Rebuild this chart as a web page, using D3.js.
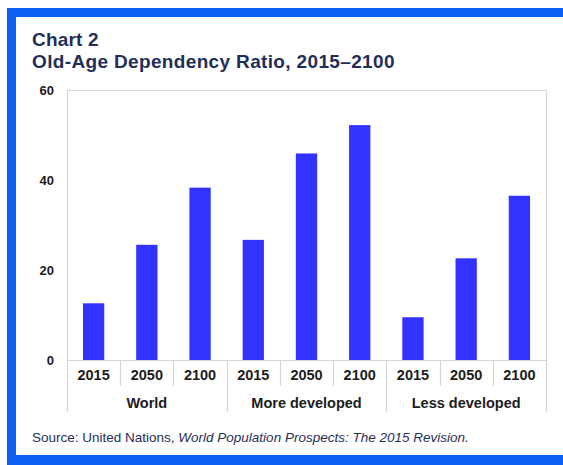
<!DOCTYPE html>
<html>
<head>
<meta charset="utf-8">
<script src="https://cdn.jsdelivr.net/npm/d3@7"></script>
<style>
  html, body { margin: 0; padding: 0; background: #ffffff; }
  svg { display: block; font-family: "Liberation Sans", Arial, sans-serif; }
</style>
</head>
<body>
<svg id="chart" width="563" height="465"></svg>
<script>
// Old-age dependency ratio by region and year
const groups = ["World", "More developed", "Less developed"];
const years = ["2015", "2050", "2100"];
const worldValues = [12.6, 25.6, 38.3];
const moreDevelopedValues = [26.7, 45.9, 52.2];
const lessDevelopedValues = [9.5, 22.6, 36.5];
const yTicks = [0, 20, 40, 60];

const seriesByGroup = [worldValues, moreDevelopedValues, lessDevelopedValues];
const rows = [];
groups.forEach((g, gi) => {
  years.forEach((yr, yi) => {
    rows.push({ key: g + "|" + yr, group: g, year: yr, value: seriesByGroup[gi][yi] });
  });
});

const svg = d3.select("#chart");
const W = 563, H = 465;

// Blue frame (top, left, bottom)
const frameBlue = "#0b60f2";
svg.append("rect").attr("x", 7).attr("y", 8).attr("width", W - 7).attr("height", 9).attr("fill", frameBlue);
svg.append("rect").attr("x", 7).attr("y", 8).attr("width", 9).attr("height", H - 8).attr("fill", frameBlue);
svg.append("rect").attr("x", 7).attr("y", 455).attr("width", W - 7).attr("height", 10).attr("fill", frameBlue);

const navy = "#1f2f57";
const ink = "#1c1c1c";

// Titles
svg.append("text").attr("x", 32).attr("y", 46)
  .attr("font-size", 19).attr("font-weight", "bold").attr("fill", navy)
  .attr("letter-spacing", 0.2)
  .text("Chart 2");
svg.append("text").attr("x", 32).attr("y", 68)
  .attr("font-size", 19).attr("font-weight", "bold").attr("fill", navy)
  .attr("letter-spacing", 0.35)
  .text("Old-Age Dependency Ratio, 2015\u20132100");

// Plot geometry
const plot = { left: 67, right: 546, top: 90, bottom: 360 };

const x = d3.scaleBand()
  .domain(rows.map(d => d.key))
  .range([plot.left, plot.right])
  .paddingInner(0.6)
  .paddingOuter(0.3);

const y = d3.scaleLinear()
  .domain([0, 60])
  .range([plot.bottom, plot.top]);

const gridGray = "#d6d6d6";

// Plot border (top, left, right extend down through the category rows)
svg.append("line").attr("x1", plot.left).attr("x2", plot.right)
  .attr("y1", plot.top + 0.5).attr("y2", plot.top + 0.5)
  .attr("stroke", gridGray).attr("stroke-width", 1.2);
[plot.left, plot.right].forEach(px => {
  svg.append("line").attr("x1", px + 0.5).attr("x2", px + 0.5)
    .attr("y1", plot.top).attr("y2", 412)
    .attr("stroke", gridGray).attr("stroke-width", 1.2);
});

// Bars
svg.append("g").selectAll("rect")
  .data(rows)
  .join("rect")
  .attr("x", d => x(d.key))
  .attr("width", x.bandwidth())
  .attr("y", d => y(d.value))
  .attr("height", d => y(0) - y(d.value))
  .attr("fill", "#3333ff");

// Y axis
const yAxis = svg.append("g")
  .attr("transform", `translate(${plot.left},0)`)
  .call(d3.axisLeft(y).tickValues(yTicks).tickSize(0).tickPadding(13));
yAxis.select(".domain").remove();
yAxis.selectAll("text")
  .attr("font-size", 13).attr("font-weight", "bold").attr("fill", ink)
  .attr("font-family", "'Liberation Sans', Arial, sans-serif");

// X axis with year labels
const xAxis = svg.append("g")
  .attr("transform", `translate(0,${plot.bottom})`)
  .call(d3.axisBottom(x).tickSize(0).tickPadding(10)
    .tickFormat(k => rows.find(r => r.key === k).year));
xAxis.select(".domain").attr("stroke", gridGray).attr("stroke-width", 1.2);
xAxis.selectAll("text")
  .attr("font-size", 14.5).attr("font-weight", "bold").attr("fill", ink)
  .attr("font-family", "'Liberation Sans', Arial, sans-serif");

// Separators between years and between groups
const boundary = i => x(rows[i].key) + x.bandwidth() + (x.step() - x.bandwidth()) / 2;
for (let i = 0; i < rows.length - 1; i++) {
  const isGroupEdge = (i + 1) % years.length === 0;
  svg.append("line")
    .attr("x1", Math.round(boundary(i)) + 0.5).attr("x2", Math.round(boundary(i)) + 0.5)
    .attr("y1", plot.bottom).attr("y2", isGroupEdge ? 412 : 386)
    .attr("stroke", gridGray).attr("stroke-width", 1.2);
}

// Group labels
svg.append("g").selectAll("text")
  .data(groups)
  .join("text")
  .attr("x", (g, gi) => {
    const first = x(rows[gi * years.length].key);
    const last = x(rows[gi * years.length + years.length - 1].key) + x.bandwidth();
    return (first + last) / 2;
  })
  .attr("y", 408)
  .attr("text-anchor", "middle")
  .attr("font-size", 14.5).attr("font-weight", "bold").attr("fill", ink)
  .text(g => g);

// Source note
const src = svg.append("text").attr("x", 32).attr("y", 442)
  .attr("font-size", 13.5).attr("fill", navy);
src.append("tspan").text("Source: United Nations, ");
src.append("tspan").attr("font-style", "italic").text("World Population Prospects: The 2015 Revision.");
</script>
</body>
</html>
